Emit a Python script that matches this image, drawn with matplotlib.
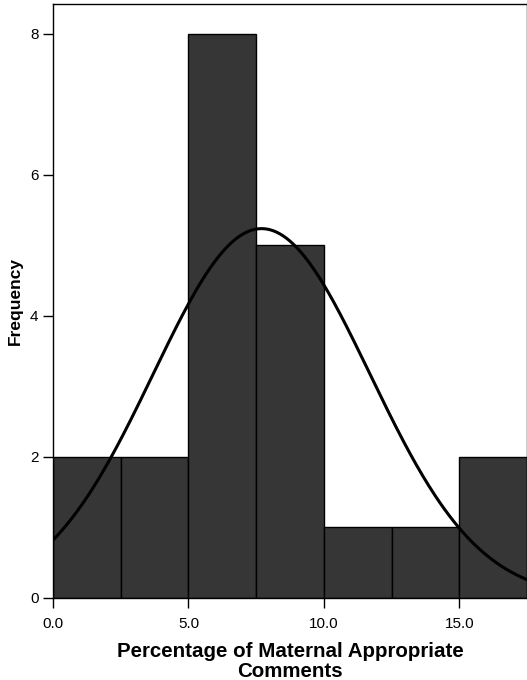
import numpy as np
import matplotlib
matplotlib.use('Agg')
import matplotlib.pyplot as plt

plt.rcParams['font.family'] = ['Liberation Sans', 'DejaVu Sans']

# histogram bins (left edges) and counts
bin_edges = [0.0, 2.5, 5.0, 7.5, 10.0, 12.5, 15.0, 17.5]
counts = [2, 2, 8, 5, 1, 1, 2]

# fitted normal curve parameters
n_total = 21
mean_val = 7.7
sd_val = 4.0

x_ticks = [0.0, 5.0, 10.0, 15.0]
x_tick_labels = ['0.0', '5.0', '10.0', '15.0']
y_ticks = [0, 2, 4, 6, 8]

fig = plt.figure(figsize=(5.27, 6.8), dpi=100)
ax = fig.add_axes([0.1006, 0.1206, 0.8994, 0.8735])

widths = np.diff(bin_edges)
ax.bar(bin_edges[:-1], counts, width=widths, align='edge',
       color='#363636', edgecolor='black', linewidth=1.0)

# normal curve scaled to counts
bw = widths[0]
xs = np.linspace(bin_edges[0], bin_edges[-1], 300)
ys = n_total * bw / (sd_val * np.sqrt(2 * np.pi)) * np.exp(-(xs - mean_val) ** 2 / (2 * sd_val ** 2))
ax.plot(xs, ys, color='black', linewidth=2.2)

ax.set_xlim(0, 17.5)
ax.set_ylim(0, 8.42)
ax.set_xticks(x_ticks)
ax.set_xticklabels(x_tick_labels)
ax.set_yticks(y_ticks)
ax.tick_params(direction='out', length=7, width=1, labelsize=11, colors='black')
ax.tick_params(axis='x', pad=6.5)
ax.tick_params(axis='y', pad=3.5)
for sp in ax.spines.values():
    sp.set_linewidth(1.0)

ax.set_xlabel('Percentage of Maternal Appropriate\nComments', fontsize=14.8,
              fontweight='bold', labelpad=8, linespacing=1.08)
ax.set_ylabel('Frequency', fontsize=12.5, fontweight='bold', labelpad=5)

plt.savefig('out.png', dpi=100)
